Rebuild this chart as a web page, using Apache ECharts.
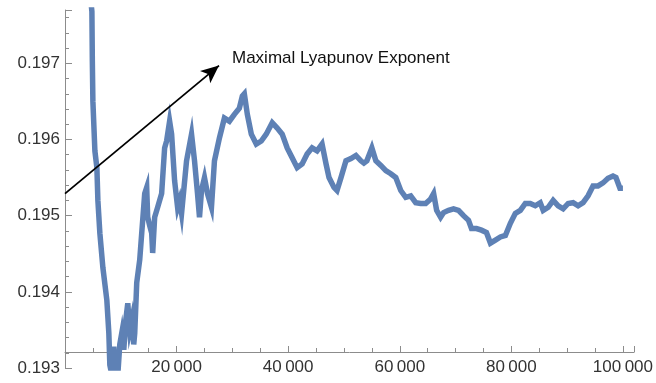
<!DOCTYPE html>
<html>
<head>
<meta charset="utf-8">
<script src="https://cdn.jsdelivr.net/npm/echarts@6/dist/echarts.min.js"></script>
<style>html,body{margin:0;padding:0;background:#fff}#c{width:656px;height:383px}</style>
</head>
<body>
<div id="c"></div>
<script>
// ---- data ----
const steps = [4460, 4821, 4900, 5000, 5357, 5714, 5893, 6250, 6786, 7500, 7857, 8036, 8393, 8750, 8929, 9464, 9821, 10179, 10536, 10893, 11250, 11607, 11964, 12321, 12500, 12857, 13393, 13750, 14286, 14643, 14821, 15179, 15536, 15714, 16071, 16607, 17321, 17857, 18214, 18750, 19107, 19643, 20179, 20536, 20893, 21786, 22679, 23214, 23750, 24107, 24464, 25000, 25536, 26250, 26786, 27679, 28571, 29464, 30357, 31250, 31786, 32143, 32679, 33393, 34286, 35179, 36071, 37143, 38036, 38929, 39821, 40714, 41607, 42500, 43393, 44286, 45179, 46071, 46786, 47321, 48214, 48750, 49464, 50357, 51250, 52143, 53036, 53571, 54107, 55000, 55714, 56607, 57500, 58393, 59286, 60179, 61071, 61964, 62857, 63750, 64643, 65536, 66071, 66607, 67321, 67857, 68750, 69643, 70536, 71429, 72321, 72857, 73750, 74643, 75536, 76250, 77143, 78036, 78929, 79821, 80714, 81607, 82500, 83393, 84286, 85179, 85714, 86607, 87500, 88393, 89286, 90179, 91071, 91964, 92857, 93750, 94643, 95536, 96429, 97321, 98214, 98750, 99464, 100000];
const lyapunov = [0.19794, 0.19768, 0.19703, 0.19650, 0.19585, 0.19563, 0.19520, 0.19477, 0.19432, 0.19389, 0.19346, 0.19304, 0.19291, 0.19328, 0.19295, 0.19291, 0.19331, 0.19346, 0.19324, 0.19363, 0.19385, 0.19350, 0.19363, 0.19331, 0.19346, 0.19412, 0.19442, 0.19477, 0.19529, 0.19537, 0.19498, 0.19487, 0.19477, 0.19451, 0.19498, 0.19511, 0.19529, 0.19589, 0.19598, 0.19624, 0.19607, 0.19546, 0.19511, 0.19520, 0.19503, 0.19572, 0.19607, 0.19572, 0.19529, 0.19498, 0.19533, 0.19550, 0.19529, 0.19511, 0.19572, 0.19602, 0.19628, 0.19624, 0.19633, 0.19641, 0.19657, 0.19660, 0.19633, 0.19607, 0.19594, 0.19598, 0.19607, 0.19622, 0.19615, 0.19607, 0.19589, 0.19576, 0.19563, 0.19568, 0.19581, 0.19589, 0.19585, 0.19594, 0.19568, 0.19550, 0.19537, 0.19533, 0.19550, 0.19572, 0.19575, 0.19579, 0.19572, 0.19569, 0.19572, 0.19589, 0.19572, 0.19566, 0.19559, 0.19555, 0.19550, 0.19533, 0.19524, 0.19526, 0.19517, 0.19516, 0.19516, 0.19522, 0.19529, 0.19507, 0.19498, 0.19504, 0.19507, 0.19509, 0.19507, 0.19500, 0.19494, 0.19483, 0.19483, 0.19481, 0.19478, 0.19464, 0.19468, 0.19472, 0.19474, 0.19490, 0.19503, 0.19507, 0.19516, 0.19516, 0.19513, 0.19517, 0.19507, 0.19511, 0.19520, 0.19513, 0.19509, 0.19516, 0.19517, 0.19513, 0.19517, 0.19526, 0.19539, 0.19539, 0.19543, 0.19549, 0.19552, 0.19550, 0.19536, 0.19536];
const xTicks = [0, 20000, 40000, 60000, 80000, 100000];
const yTicks = [0.193, 0.194, 0.195, 0.196, 0.197];
const annotationText = 'Maximal Lyapunov Exponent';
const arrowStart = [0, 0.19529];
const arrowEnd = [27600, 0.19697];

const FONT = 'Liberation Sans, Arial, sans-serif';
const AX = '#8c8c8c';
const chart = echarts.init(document.getElementById('c'), null, {renderer: 'canvas'});
const pts = steps.map((s, i) => [s, lyapunov[i]]);

chart.setOption({
  animation: false,
  grid: {left: 65, right: 20, top: 10, bottom: 15, containLabel: false},
  xAxis: {
    type: 'value', min: 0, max: 102000, interval: 20000,
    offset: -16,
    axisLine: {onZero: false, lineStyle: {color: AX, width: 1}},
    axisTick: {inside: true, length: 6, lineStyle: {color: AX}},
    minorTick: {show: true, splitNumber: 4, length: 4, lineStyle: {color: AX}},
    splitLine: {show: false},
    axisLabel: {
      margin: 7, fontSize: 17, fontFamily: FONT, color: '#333',
      formatter: v => (xTicks.includes(Math.round(v)) && v !== 0) ? String(Math.round(v)).replace(/(\d)(?=(\d{3})+$)/g, '$1\u2009') : ''
    }
  },
  yAxis: {
    type: 'value', min: 0.193, max: 0.1977, interval: 0.001,
    axisLine: {show: true, lineStyle: {color: AX, width: 1}},
    axisTick: {inside: true, length: 7, lineStyle: {color: AX}},
    minorTick: {show: true, splitNumber: 5, length: 4, lineStyle: {color: AX}},
    splitLine: {show: false},
    axisLabel: {
      margin: 5, fontSize: 17, fontFamily: FONT, color: '#333',
      formatter: v => {
        const hit = yTicks.find(t => Math.abs(t - v) < 1e-7);
        return hit !== undefined ? hit.toFixed(3) : '';
      }
    }
  },
  series: [{
    type: 'line', data: pts, showSymbol: false, smooth: false,
    lineStyle: {color: '#5e81b5', width: 5.5, join: 'miter'},
    clip: true,
    markLine: {
      silent: true, symbol: ['none', 'arrow'], symbolSize: [12, 18],
      label: {show: false},
      lineStyle: {color: '#000', width: 1.8, type: 'solid'},
      data: [[{coord: arrowStart}, {coord: arrowEnd}]]
    }
  }],
  graphic: [{
    type: 'text', left: 232, top: 50,
    style: {text: annotationText, font: '17px ' + FONT, fill: '#111'}
  }]
});
</script>
</body>
</html>
